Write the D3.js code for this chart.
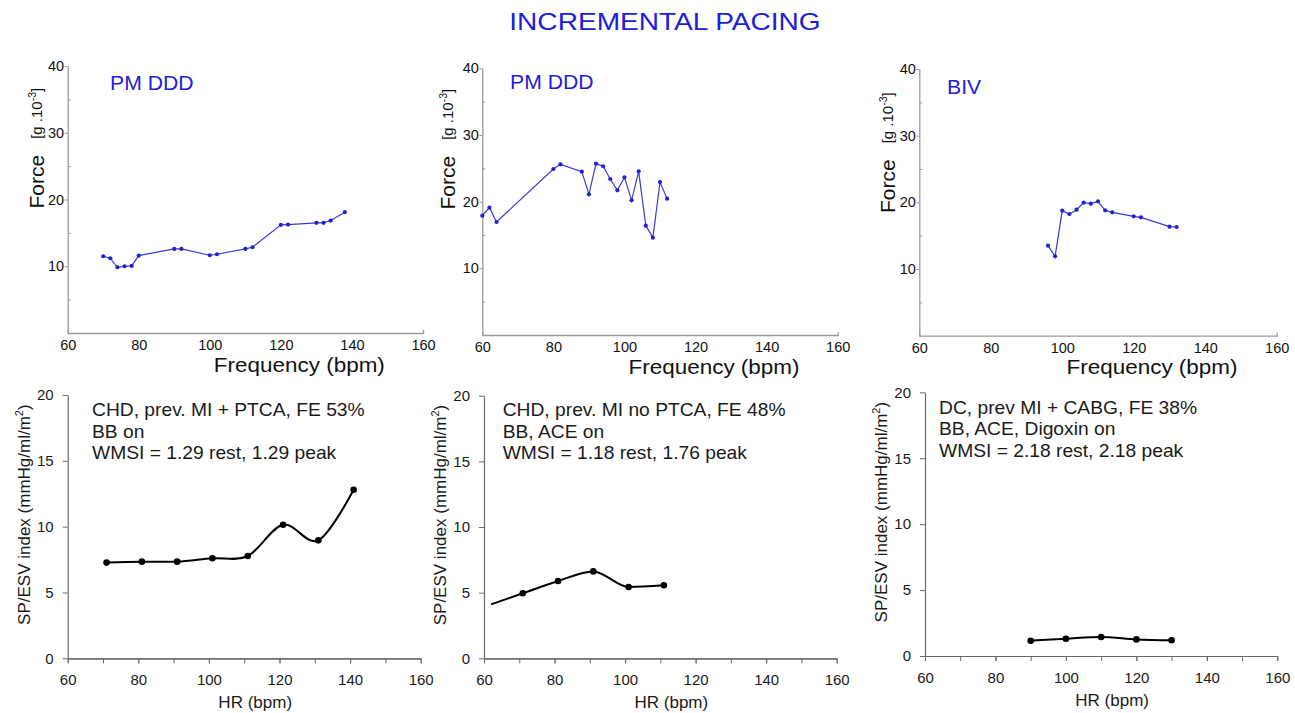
<!DOCTYPE html>
<html>
<head>
<meta charset="utf-8">
<script src="https://cdn.jsdelivr.net/npm/d3@7/dist/d3.min.js"></script>
<style>
  html, body { margin: 0; padding: 0; background: #fff; }
  svg { display: block; font-family: "Liberation Sans", Arial, sans-serif; }
</style>
</head>
<body>
<svg id="chart" width="1295" height="713"></svg>
<script>
// ---------------- DATA ----------------
const title = "INCREMENTAL PACING";
const xTickValues = [60, 80, 100, 120, 140, 160];
const hrMinorTicks = [60, 70, 80, 90, 100, 110, 120, 130, 140, 150, 160];
const forceTicks = [10, 20, 30, 40];
const forceMinorTicks = [5, 15, 25, 35];
const spTicks = [0, 5, 10, 15, 20];

const topLabels = ["PM DDD", "PM DDD", "BIV"];

const p1Freq  = [70, 72, 74, 76, 78, 80, 90, 92, 100, 102, 110, 112, 120, 122, 130, 132, 134, 138];
const p1Force = [11.5, 11.2, 9.85, 10.0, 10.05, 11.6, 12.6, 12.6, 11.65, 11.8, 12.6, 12.85, 16.2, 16.25, 16.5, 16.5, 16.85, 18.1];

const p2Freq  = [60, 62, 64, 80, 82, 88, 90, 92, 94, 96, 98, 100, 102, 104, 106, 108, 110, 112];
const p2Force = [17.9, 19.1, 16.95, 24.9, 25.6, 24.5, 21.1, 25.7, 25.3, 23.4, 21.7, 23.65, 20.2, 24.55, 16.4, 14.6, 22.95, 20.45];

const p3Freq  = [96, 98, 100, 102, 104, 106, 108, 110, 112, 114, 120, 122, 130, 132];
const p3Force = [13.5, 11.9, 18.75, 18.25, 18.9, 19.95, 19.8, 20.15, 18.8, 18.5, 17.9, 17.75, 16.35, 16.3];

const b1HR  = [71, 81, 91, 101, 111, 121, 131, 141];
const b1Idx = [7.27, 7.34, 7.34, 7.6, 7.77, 10.15, 8.96, 12.8];
const b2HR  = [62, 71, 81, 91, 101, 111];
const b2Idx = [4.11, 4.95, 5.89, 6.62, 5.43, 5.56];
const b2FirstMarker = 1; // first point drawn without a marker
const b3HR  = [90, 100, 110, 120, 130];
const b3Idx = [1.16, 1.31, 1.44, 1.26, 1.19];

const b1Notes = ["CHD, prev. MI + PTCA, FE 53%", "BB on", "WMSI = 1.29 rest, 1.29 peak"];
const b2Notes = ["CHD, prev. MI no PTCA, FE 48%", "BB, ACE on", "WMSI = 1.18 rest, 1.76 peak"];
const b3Notes = ["DC, prev MI + CABG, FE 38%", "BB, ACE, Digoxin on", "WMSI = 2.18 rest, 2.18 peak"];

// ---------------- LAYOUT ----------------
const svg = d3.select("#chart");
const BLUE = "#2020d8";
const LINE_BLUE = "#3a3ad6";

// text helper with optional horizontal stretch
function addText(x, y, str, size, fill, sx, anchor) {
  return svg.append("text")
    .attr("transform", `translate(${x},${y}) scale(${sx || 1},1)`)
    .attr("text-anchor", anchor || "start")
    .attr("font-size", size)
    .attr("fill", fill)
    .text(str);
}

addText(665, 29.5, title, 24, BLUE, 1.17, "middle");

const topPanels = [
  { x0: 67.7, x1: 423, y0: 333, y1: 66, xs: p1Freq, ys: p1Force, label: topLabels[0], lx: 110, ly: 90, fx: 44.3, fy: 208.5 },
  { x0: 482.3, x1: 837.7, y0: 335, y1: 68.3, xs: p2Freq, ys: p2Force, label: topLabels[1], lx: 510, ly: 89, fx: 455, fy: 209.5 },
  { x0: 919.3, x1: 1276.7, y0: 335.7, y1: 69, xs: p3Freq, ys: p3Force, label: topLabels[2], lx: 947, ly: 94, fx: 895, fy: 213 }
];

topPanels.forEach(p => {
  const x = d3.scaleLinear().domain([60, 160]).range([p.x0, p.x1]);
  const y = d3.scaleLinear().domain([0, 40]).range([p.y0, p.y1]);
  const g = svg.append("g");

  const xa = g.append("g").attr("transform", `translate(0,${p.y0})`)
    .call(d3.axisBottom(x).tickValues(xTickValues).tickSize(0).tickSizeOuter(-3).tickPadding(7));
  const ya = g.append("g").attr("transform", `translate(${p.x0},0)`)
    .call(d3.axisLeft(y).tickValues(forceTicks).tickSize(3).tickSizeOuter(0).tickPadding(0.5));
  const ym = g.append("g").attr("transform", `translate(${p.x0},0)`)
    .call(d3.axisLeft(y).tickValues(forceMinorTicks).tickSize(-3).tickSizeOuter(0).tickFormat(""));
  ym.select(".domain").remove();
  [xa, ya, ym].forEach(a => {
    a.select(".domain").attr("stroke", "#9a9a9a").attr("stroke-width", 1.3);
    a.selectAll(".tick line").attr("stroke", "#9a9a9a");
    a.selectAll(".tick text").attr("font-size", 14.5).attr("fill", "#111")
      .attr("font-family", "'Liberation Sans', Arial, sans-serif");
  });

  addText((p.x0 + p.x1) / 2 + 54, p.y0 + 38.5, "Frequency (bpm)", 21, "#111", 1.07, "middle");

  const t = svg.append("text")
    .attr("transform", `translate(${p.fx},${p.fy}) rotate(-90)`)
    .attr("fill", "#111");
  t.append("tspan").attr("font-size", 21).text("Force");
  t.append("tspan").attr("font-size", 15).attr("dx", 16).attr("dy", -2).text("[g .10");
  t.append("tspan").attr("font-size", 10.5).attr("dy", -6).text("-3");
  t.append("tspan").attr("font-size", 15).attr("dy", 6).text("]");

  addText(p.lx, p.ly, p.label, 20, BLUE, 1.06);

  const pts = p.xs.map((v, i) => [v, p.ys[i]]);
  g.append("path").datum(pts)
    .attr("fill", "none").attr("stroke", LINE_BLUE).attr("stroke-width", 1.2)
    .attr("d", d3.line().x(d => x(d[0])).y(d => y(d[1])));
  g.selectAll("circle.m").data(pts).join("circle")
    .attr("cx", d => x(d[0])).attr("cy", d => y(d[1])).attr("r", 2.1)
    .attr("fill", "#2222cc");
});

const bottomPanels = [
  { x0: 67.7, x1: 420.7, y0: 658.3, y1: 395, xs: b1HR, ys: b1Idx, notes: b1Notes, nx: 92, ny: 416, first: 0, curve: d3.curveCatmullRom.alpha(0) },
  { x0: 484, x1: 836.7, y0: 658.3, y1: 395.7, xs: b2HR, ys: b2Idx, notes: b2Notes, nx: 502.7, ny: 416, first: b2FirstMarker, curve: d3.curveMonotoneX },
  { x0: 925, x1: 1277.3, y0: 656, y1: 392.3, xs: b3HR, ys: b3Idx, notes: b3Notes, nx: 939, ny: 413.5, first: 0, curve: d3.curveMonotoneX }
];

bottomPanels.forEach(p => {
  const x = d3.scaleLinear().domain([60, 160]).range([p.x0, p.x1]);
  const y = d3.scaleLinear().domain([0, 20]).range([p.y0, p.y1]);
  const g = svg.append("g");

  const xm = g.append("g").attr("transform", `translate(0,${p.y0})`)
    .call(d3.axisBottom(x).tickValues(hrMinorTicks).tickSize(5).tickSizeOuter(0).tickFormat(""));
  const xa = g.append("g").attr("transform", `translate(0,${p.y0})`)
    .call(d3.axisBottom(x).tickValues(xTickValues).tickSize(5).tickSizeOuter(0).tickPadding(11));
  const ya = g.append("g").attr("transform", `translate(${p.x0},0)`)
    .call(d3.axisLeft(y).tickValues(spTicks).tickSize(5).tickSizeOuter(0).tickPadding(9));
  [xm, xa, ya].forEach(a => {
    a.select(".domain").attr("stroke", "#6a6a6a").attr("stroke-width", 1.2);
    a.selectAll(".tick line").attr("stroke", "#6a6a6a");
    a.selectAll(".tick text").attr("font-size", 15).attr("fill", "#1a1a1a")
      .attr("font-family", "'Liberation Sans', Arial, sans-serif");
  });

  addText((p.x0 + p.x1) / 2 + 11, p.y0 + 50, "HR (bpm)", 17, "#1a1a1a", 1, "middle");

  const t = svg.append("text")
    .attr("transform", `translate(${p.x0 - 38},${(p.y0 + p.y1) / 2 - 12}) rotate(-90)`)
    .attr("text-anchor", "middle").attr("font-size", 17).attr("fill", "#1a1a1a");
  t.append("tspan").text("SP/ESV index (mmHg/ml/m");
  t.append("tspan").attr("font-size", 11).attr("dy", -7).text("2");
  t.append("tspan").attr("dy", 7).text(")");

  p.notes.forEach((n, i) => {
    addText(p.nx, p.ny + i * 21.5, n, 17.5, "#1a1a1a", 1.1);
  });

  const pts = p.xs.map((v, i) => [v, p.ys[i]]);
  g.append("path").datum(pts)
    .attr("fill", "none").attr("stroke", "#000").attr("stroke-width", 2)
    .attr("d", d3.line().curve(p.curve).x(d => x(d[0])).y(d => y(d[1])));
  g.selectAll("circle.m").data(pts.slice(p.first)).join("circle")
    .attr("cx", d => x(d[0])).attr("cy", d => y(d[1])).attr("r", 3.3)
    .attr("fill", "#000");
});
</script>
</body>
</html>
